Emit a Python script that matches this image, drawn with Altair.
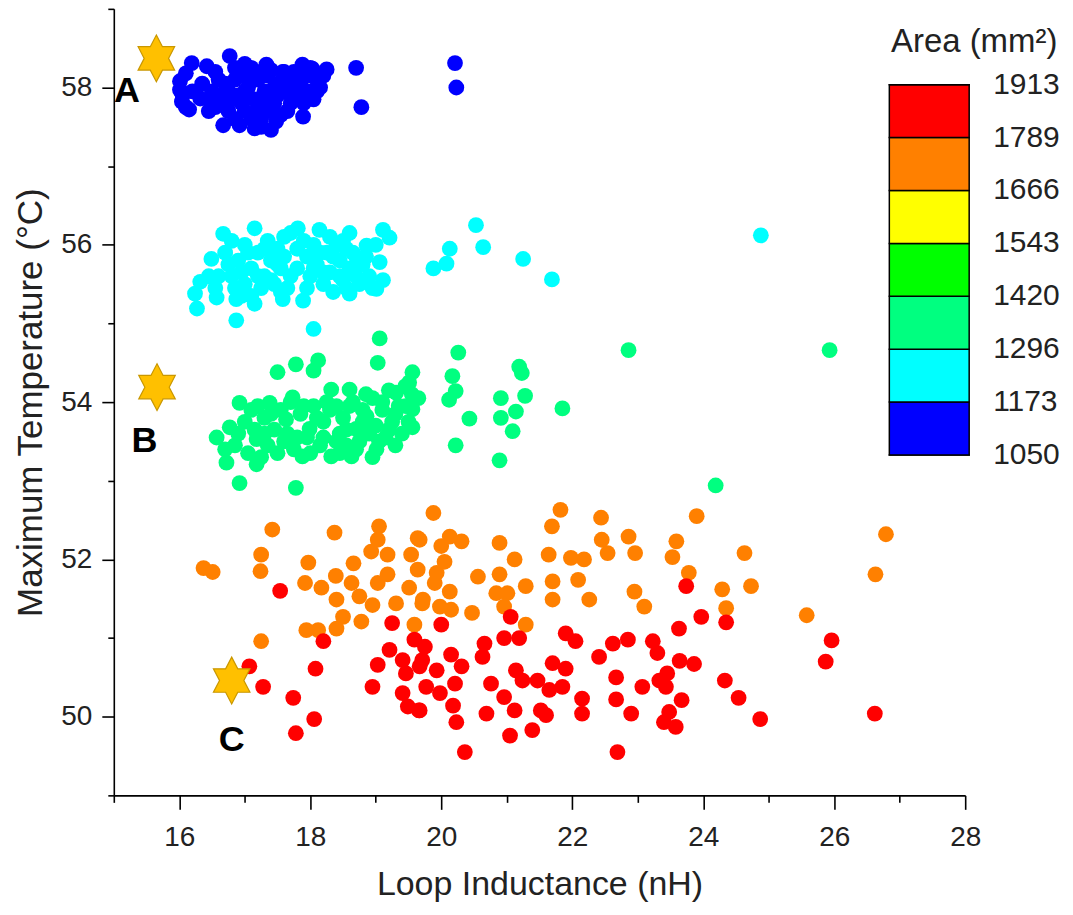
import altair as alt
import pandas as pd

# ---- data ----
blue_x = [16.19, 16.01, 16.01, 16.04, 16.42, 16.32, 16.77, 16.67, 16.92, 17.15, 17.40, 17.48, 17.33, 17.58,
          17.88, 18.03, 18.25, 17.89, 18.70, 18.78, 20.21, 20.23,
          16.10, 16.05, 16.15, 16.50, 16.55, 16.60, 16.70, 16.75, 16.85, 16.90, 16.95, 17.00, 17.05, 17.10,
          17.15, 17.20, 17.25, 17.30, 17.35, 17.45, 17.50, 17.55, 17.60, 17.65, 17.70, 17.75, 17.80, 17.85,
          17.95, 18.00, 18.10, 18.15, 17.25, 16.85, 16.45, 17.00, 17.40,
          16.35, 16.45, 16.60, 16.65, 16.80, 16.85, 16.95, 17.05, 17.10, 17.20, 17.25, 17.35, 17.45, 17.50,
          17.60, 17.70, 17.80, 17.90, 18.00, 18.05, 18.20, 16.55, 16.75, 17.00, 17.30, 17.65, 18.10, 16.20,
          16.10]
blue_y = [58.31, 58.08, 57.97, 57.82, 58.27, 57.86, 58.40, 57.52, 57.52, 57.48, 57.46, 57.57, 58.29, 58.20,
          58.29, 58.24, 58.23, 57.63, 58.25, 57.75, 58.31, 58.00,
          58.18, 57.90, 57.72, 57.95, 58.20, 57.80, 58.05, 57.70, 58.25, 57.90, 58.15, 57.70, 58.00, 58.25,
          57.85, 58.10, 57.60, 57.95, 58.15, 57.80, 58.05, 57.65, 57.95, 58.10, 57.80, 58.20, 57.90, 58.05,
          58.15, 57.95, 58.10, 58.00, 57.50, 57.60, 57.70, 58.30, 58.22,
          58.05, 57.85, 58.10, 57.90, 57.85, 58.10, 57.80, 58.15, 57.60, 57.75, 58.20, 57.70, 58.00, 57.90,
          58.20, 57.95, 58.15, 57.80, 58.25, 57.85, 58.15, 57.75, 57.95, 57.95, 57.85, 57.70, 57.95, 57.95,
          57.75]

cyan_x = [16.67, 16.49, 16.32, 16.24, 16.27, 16.57, 16.87, 17.15, 17.81, 18.14, 18.05, 19.11, 19.21, 18.86,
          19.06, 19.11, 19.01, 18.60, 17.89, 17.58, 16.87, 19.88, 20.13, 20.08, 20.53, 20.64, 21.25, 21.69,
          24.88,
          16.70, 16.80, 16.90, 17.00, 17.00, 17.10, 17.20, 17.25, 17.30, 17.35, 17.40, 17.45, 17.50, 17.55,
          17.60, 17.65, 17.95, 18.00, 18.05, 18.10, 18.20, 18.25, 18.30, 18.40, 18.45, 18.50, 18.55, 18.60,
          18.70, 18.75, 18.80, 16.95, 17.15, 16.60, 18.35, 18.90, 17.80, 17.70, 18.60, 16.80,
          16.75, 16.85, 16.95, 17.05, 17.10, 17.20, 17.30, 17.40, 17.50, 17.55, 17.60, 17.70, 17.80, 17.90,
          17.95, 18.05, 18.15, 18.20, 18.30, 18.35, 18.45, 18.50, 18.55, 18.65, 18.70, 18.85, 18.95, 19.00,
          16.55, 16.45]
cyan_y = [56.14, 55.82, 55.53, 55.38, 55.19, 55.33, 55.04, 56.21, 56.21, 56.19, 54.93, 56.19, 56.09, 55.99,
          55.78, 55.55, 55.44, 55.38, 55.29, 55.31, 55.31, 55.70, 55.95, 55.76, 56.25, 55.97, 55.82, 55.56,
          56.12,
          55.90, 55.60, 55.80, 56.00, 55.50, 55.70, 55.90, 55.45, 55.60, 56.05, 55.80, 55.50, 55.95, 55.70,
          56.10, 55.45, 55.85, 55.60, 56.00, 55.75, 55.50, 55.90, 55.65, 56.00, 55.80, 55.55, 55.95, 55.70,
          55.85, 55.50, 55.75, 55.35, 55.25, 55.60, 55.40, 55.60, 55.95, 56.15, 56.15, 56.05,
          55.75, 55.45, 55.65, 55.90, 55.35, 55.60, 55.95, 55.55, 55.75, 55.40, 55.85, 55.60, 55.70, 56.05,
          55.45, 55.70, 55.90, 55.65, 56.10, 55.85, 55.60, 56.05, 55.45, 55.90, 55.60, 55.85, 55.45, 56.00,
          55.45, 55.60]

green_x = [19.06, 19.03, 17.50, 17.78, 18.12, 18.05, 16.57, 16.77, 16.72, 16.92, 17.18, 17.78, 17.88, 16.92,
           17.38, 17.63, 17.73, 18.32, 18.60, 18.32, 18.63, 19.56, 19.51, 19.31, 19.56, 19.56, 19.01, 17.18,
           17.99, 18.70, 18.40, 18.86, 20.26, 20.17, 20.22, 20.12, 20.43, 20.22, 20.89, 20.91, 20.91, 21.14,
           21.09, 21.19, 21.23, 21.28, 21.85, 22.86, 25.93, 24.19,
           16.85, 17.00, 17.10, 17.15, 17.30, 17.35, 17.45, 17.55, 17.60, 17.75, 17.85, 17.95, 18.05, 18.15,
           18.20, 18.25, 18.45, 18.50, 18.55, 18.65, 18.75, 18.80, 18.90, 18.95, 19.00, 19.10, 19.15, 19.20,
           19.25, 19.35, 19.40, 19.45, 19.30, 18.45, 17.25, 16.70, 18.95, 19.65,
           16.90, 17.05, 17.20, 17.30, 17.40, 17.50, 17.65, 17.70, 17.80, 17.90, 18.00, 18.10, 18.20, 18.30,
           18.40, 18.55, 18.60, 18.70, 18.80, 18.85, 19.05, 19.10, 19.20, 19.30, 19.45, 19.50, 19.55]
green_y = [54.81, 54.50, 54.38, 54.48, 54.53, 54.40, 53.55, 53.68, 53.23, 52.97, 53.21, 52.91, 53.31, 53.99,
           53.99, 53.78, 54.06, 54.16, 54.16, 53.31, 53.31, 54.38, 54.25, 54.12, 53.91, 53.68, 53.40, 53.53,
           53.66, 53.66, 53.95, 53.82, 54.63, 54.33, 54.14, 54.03, 53.79, 53.45, 53.26, 54.05, 53.80, 53.88,
           53.63, 54.45, 54.37, 54.08, 53.92, 54.66, 54.66, 52.94,
           53.45, 53.75, 53.90, 53.65, 53.80, 53.45, 53.65, 53.90, 53.50, 53.40, 53.85, 53.55, 53.95, 53.45,
           53.75, 54.00, 53.60, 53.80, 53.45, 54.00, 53.50, 53.90, 53.60, 54.05, 53.70, 53.90, 53.55, 54.15,
           53.75, 53.95, 53.60, 54.20, 53.45, 53.35, 53.30, 53.40, 53.30, 54.05,
           53.60, 53.35, 53.95, 53.60, 53.85, 53.35, 53.60, 54.00, 53.55, 53.95, 53.35, 53.80, 53.55, 53.90,
           53.50, 53.65, 53.95, 53.40, 53.75, 54.10, 53.50, 54.00, 53.65, 53.85, 53.95, 53.75, 54.10]

orange_x = [16.37, 16.51, 17.42, 17.25, 17.24, 18.37, 17.97, 17.92, 18.17, 18.39, 18.66, 18.63, 18.40, 18.75,
            18.95, 18.50, 18.78, 18.40, 17.94, 18.12, 17.25, 19.05, 19.03, 18.93, 19.18, 19.03, 19.18, 19.31,
            19.64, 19.54, 19.64, 19.51, 19.71, 19.59,
            19.88, 19.67, 20.13, 20.31, 20.00, 20.05, 19.93, 19.90, 20.13, 19.72, 19.98, 20.15, 20.56, 20.47,
            20.89, 21.12, 20.89, 20.84, 21.01, 20.96, 21.29, 21.29, 21.82, 21.69, 22.44, 21.64, 21.98, 22.18,
            21.70, 22.09, 21.70, 22.26, 22.45, 22.54, 22.86, 22.96, 22.95, 23.10,
            23.90, 23.59, 23.53, 23.78, 24.63, 24.29, 24.73, 24.35, 25.58, 26.79, 26.63]
orange_y = [51.89, 51.84, 52.38, 52.06, 51.85, 52.34, 51.96, 51.70, 51.64, 51.79, 51.95, 51.70, 51.49, 51.53,
            51.42, 51.27, 51.21, 51.12, 51.10, 51.10, 50.96, 52.42, 52.25, 52.10, 52.06, 51.70, 51.81, 51.44,
            52.27, 52.06, 51.87, 51.64, 51.44, 51.17,
            52.59, 52.25, 52.29, 52.23, 52.17, 51.97, 51.83, 51.70, 51.59, 51.49, 51.40, 51.36, 51.78, 51.32,
            52.21, 52.00, 51.81, 51.57, 51.57, 51.40, 51.66, 51.17, 52.63, 52.42, 52.53, 52.06, 52.02, 52.00,
            51.72, 51.74, 51.49, 51.49, 52.25, 52.08, 52.29, 52.08, 51.59, 51.40,
            52.55, 52.23, 52.03, 51.83, 52.08, 51.62, 51.66, 51.38, 51.29, 52.32, 51.81]

red_x = [17.54, 18.20, 19.25, 17.07, 17.28, 18.08, 17.74, 18.06, 17.78, 19.03, 19.21, 19.41, 18.95, 19.46,
         19.41, 19.49, 19.66, 19.59, 19.71,
         20.00, 19.75, 19.67, 20.15, 20.31, 19.93, 19.77, 19.98, 19.67, 20.18, 20.23, 20.21, 20.36, 20.66,
         20.63, 20.76, 20.69, 21.06, 20.96, 21.19, 21.14, 21.24, 20.96, 21.12, 21.05, 21.39, 21.47, 21.52,
         21.60, 21.70, 21.90, 21.85, 21.65, 21.90, 22.05, 22.15, 22.15, 22.41, 22.62, 22.85, 22.67, 22.67,
         22.90, 22.69, 23.23, 23.30, 23.07, 23.33, 23.40,
         23.74, 23.97, 24.35, 23.63, 23.64, 23.86, 23.45, 23.43, 23.67, 23.48, 23.58, 24.33, 24.54, 24.87,
         25.96, 25.87, 26.62]
red_y = [51.60, 50.96, 51.19, 50.64, 50.38, 50.61, 50.24, 49.97, 49.79, 50.66, 50.85, 50.72, 50.38, 50.55,
         50.30, 50.13, 50.08, 50.98, 50.72,
         51.17, 50.89, 50.64, 50.79, 50.64, 50.59, 50.38, 50.30, 50.08, 50.14, 49.93, 50.42, 49.55, 50.93,
         50.76, 50.42, 50.04, 51.27, 51.00, 51.00, 50.59, 50.46, 50.25, 50.08, 49.76, 49.83, 50.46, 50.08,
         50.02, 50.68, 50.61, 50.38, 50.34, 51.06, 50.96, 50.23, 50.04, 50.76, 50.93, 50.98, 50.50, 50.22,
         50.04, 49.55, 50.96, 50.81, 50.38, 50.46, 49.93,
         51.66, 51.27, 51.20, 51.12, 50.71, 50.67, 50.55, 50.38, 50.21, 50.06, 49.87, 50.46, 50.24, 49.97,
         50.97, 50.70, 50.04]

group_area = {"blue": 1110, "cyan": 1235, "green": 1360, "orange": 1730, "red": 1850}

star_labels = ["A", "B", "C"]
star_x = [15.65, 15.66, 16.80]
star_y = [58.37, 54.19, 50.46]
letter_x = [15.20, 15.47, 16.80]
letter_y = [57.95, 53.51, 49.70]

area_bins = [1050, 1913]
area_colors = ["#0000FF", "#00FFFF", "#00FF80", "#00FF00", "#FFFF00", "#FF8000", "#FF0000"]
# first entry is a blank spacer so that every visible label is centred on its band edge
legend_values = [1049, 1050.01, 1173.3, 1296.6, 1420.0, 1543.2, 1666.5, 1789.8, 1912.99]

rows = []
for name, xs, ys in [("blue", blue_x, blue_y), ("cyan", cyan_x, cyan_y), ("green", green_x, green_y),
                     ("orange", orange_x, orange_y), ("red", red_x, red_y)]:
    for a, b in zip(xs, ys):
        rows.append({"inductance": a, "temperature": b, "area": group_area[name]})
df = pd.DataFrame(rows)
stars = pd.DataFrame({"label": star_labels, "sx": star_x, "sy": star_y, "lx": letter_x, "ly": letter_y})

FONT = "Liberation Sans, Arial, sans-serif"

xscale = alt.Scale(domain=[15, 28], nice=False, zero=False)
yscale = alt.Scale(domain=[49, 59], nice=False, zero=False)

xaxis = alt.Axis(
    values=list(range(15, 29)),
    labelExpr="datum.value % 2 === 0 ? format(datum.value, 'd') : ''",
    tickSize={"condition": {"test": "datum.value % 2 === 0", "value": 14}, "value": 7},
    grid=False, title="Loop Inductance (nH)", labelFontSize=28, titleFontSize=34,
    labelPadding=14, titlePadding=16, labelFlush=False,
)
yaxis = alt.Axis(
    values=list(range(49, 60)),
    labelExpr="datum.value % 2 === 0 ? format(datum.value, 'd') : ''",
    tickSize={"condition": {"test": "datum.value % 2 === 0", "value": 12}, "value": 6},
    grid=False, title="Maximum Temperature (°C)", labelFontSize=28, titleFontSize=35,
    labelPadding=10, titlePadding=12, labelFlush=False,
)

points = alt.Chart(df).mark_circle(size=250, opacity=1).encode(
    x=alt.X("inductance:Q", scale=xscale, axis=xaxis),
    y=alt.Y("temperature:Q", scale=yscale, axis=yaxis),
    color=alt.Color(
        "area:Q",
        scale=alt.Scale(type="quantize", domain=area_bins, range=area_colors),
        legend=alt.Legend(
            type="gradient", direction="vertical", orient="none", legendX=777, legendY=17,
            title="Area (mm²)", titleFontSize=33, titleFont=FONT, titleFontWeight="normal",
            titleAnchor="middle", titlePadding=26, titleColor="#222",
            values=legend_values,
            labelExpr="datum.value < 1050 ? '' : datum.value > 1912 ? '1913' : format(floor(datum.value), 'd')",
            labelFontSize=30, labelFont=FONT,
            labelBaseline="middle", labelOverlap=False, labelOffset=24, labelColor="#222",
            gradientLength=371, gradientThickness=80, gradientStrokeColor="black", gradientStrokeWidth=1.5,
        ),
    ),
)

hexagram = ("M0,-1L0.26,-0.5L0.78,-0.5L0.52,0L0.78,0.5L0.26,0.5L0,1L-0.26,0.5L-0.78,0.5"
            "L-0.52,0L-0.78,-0.5L-0.26,-0.5Z")
star_layer = alt.Chart(stars).mark_point(
    shape=hexagram, size=2200, filled=True, fill="#FFC000", stroke="#C99700", strokeWidth=1.2, opacity=1
).encode(x=alt.X("sx:Q", scale=xscale), y=alt.Y("sy:Q", scale=yscale))

letter_layer = alt.Chart(stars).mark_text(
    font=FONT, fontSize=36, fontWeight="bold", color="black", baseline="middle", align="center"
).encode(x=alt.X("lx:Q", scale=xscale), y=alt.Y("ly:Q", scale=yscale), text="label:N")

chart = alt.layer(points, star_layer, letter_layer).properties(
    width=853, height=788, autosize="none",
    padding={"left": 106, "top": 0, "right": 100, "bottom": 112},
).configure_view(stroke=None).configure_axis(
    domainColor="black", domainWidth=1.6, tickColor="black", tickWidth=1.6,
    labelFont=FONT, titleFont=FONT, labelColor="#222", titleColor="#222", titleFontWeight="normal",
)

chart.save("out.html", embed_options={"renderer": "svg", "actions": False})
